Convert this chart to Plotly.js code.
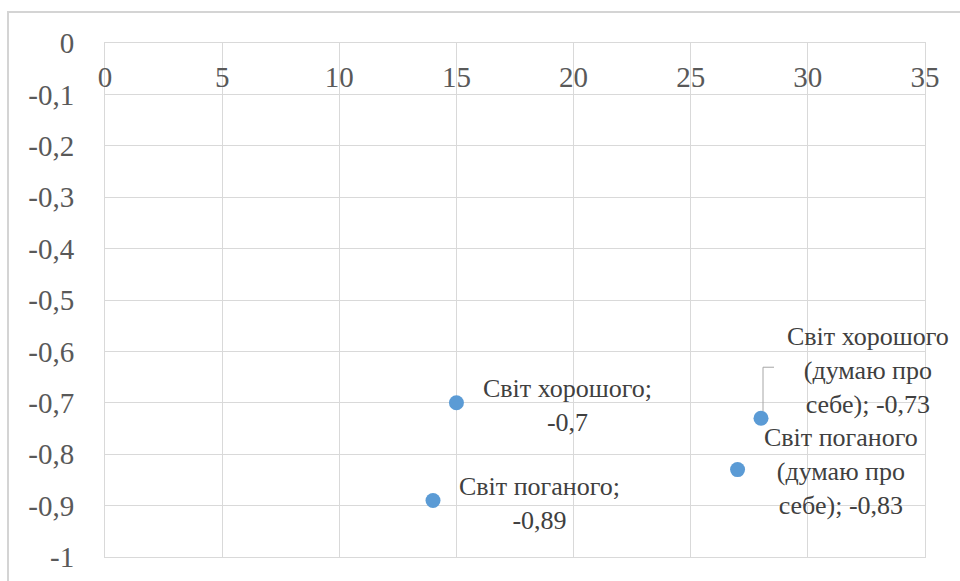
<!DOCTYPE html>
<html>
<head>
<meta charset="utf-8">
<script src="https://cdn.plot.ly/plotly-3.0.1.min.js"></script>
<style>
  html, body { margin: 0; padding: 0; background: #ffffff; }
  #chart { width: 960px; height: 581px; }
</style>
</head>
<body>
<div id="chart"></div>
<script>
// Scatter points: x value and y value for each world
const xValues = [15, 14, 28, 27];
const yValues = [-0.7, -0.89, -0.73, -0.83];
const labelNames = [
  "Світ хорошого;<br>",
  "Світ поганого;<br>",
  "Світ хорошого<br>(думаю про<br>себе); ",
  "Світ поганого<br>(думаю про<br>себе); "
];

// Axis ticks
const xTickVals = [0, 5, 10, 15, 20, 25, 30, 35];
const xTickText = ["0", "5", "10", "15", "20", "25", "30", "35"];
const yTickVals = [0, -0.1, -0.2, -0.3, -0.4, -0.5, -0.6, -0.7, -0.8, -0.9, -1];
const yTickText = ["0", "-0,1", "-0,2", "-0,3", "-0,4", "-0,5", "-0,6", "-0,7", "-0,8", "-0,9", "-1"];

// Pixel offsets of each data label relative to its point
const labelShiftX = [111, 106, 107, 103];
const labelShiftY = [-3, -3, 48, -2];

const gridColor = "#d9d9d9";
const serif = "'Liberation Serif', 'Times New Roman', Tinos, 'DejaVu Serif', serif";

function valueText(v) {
  return String(v).replace(".", ",");
}

const annotations = xValues.map((x, i) => ({
  x: x,
  y: yValues[i],
  xref: "x",
  yref: "y",
  text: labelNames[i] + valueText(yValues[i]),
  showarrow: false,
  xanchor: "center",
  yanchor: "middle",
  align: "center",
  xshift: labelShiftX[i],
  yshift: labelShiftY[i],
  font: { family: serif, size: 26, color: "#404040" }
}));

const trace = {
  type: "scatter",
  mode: "markers",
  x: xValues,
  y: yValues,
  marker: { color: "#5b9bd5", size: 15 },
  hoverinfo: "x+y"
};

const layout = {
  width: 960,
  height: 581,
  margin: { l: 105, r: 35, t: 43, b: 24 },
  paper_bgcolor: "#ffffff",
  plot_bgcolor: "#ffffff",
  showlegend: false,
  font: { family: serif },
  xaxis: {
    range: [0, 35],
    side: "top",
    tickvals: xTickVals,
    ticktext: xTickText,
    ticklabelposition: "inside",
    ticklabeloverflow: "allow",
    ticklabelstandoff: 27,
    ticks: "",
    showgrid: true,
    gridcolor: gridColor,
    zeroline: false,
    showline: true,
    mirror: true,
    linecolor: gridColor,
    linewidth: 1,
    tickfont: { family: serif, size: 29, color: "#595959" },
    fixedrange: true
  },
  yaxis: {
    range: [-1, 0],
    tickvals: yTickVals,
    ticktext: yTickText,
    ticks: "",
    ticklabeloverflow: "allow",
    ticklabelstandoff: 24,
    showgrid: true,
    gridcolor: gridColor,
    zeroline: false,
    showline: true,
    mirror: true,
    linecolor: gridColor,
    linewidth: 1,
    tickfont: { family: serif, size: 29, color: "#595959" },
    fixedrange: true
  },
  annotations: annotations,
  shapes: [
    // chart-area frame (top and left edges)
    {
      type: "path",
      xref: "paper",
      yref: "paper",
      path: "M -0.1183 -0.2 L -0.1183 1.0603 L 1.2 1.0603",
      line: { color: "#d4d4d4", width: 2 }
    },
    // leader line for the label of the third point
    {
      type: "path",
      xref: "x",
      yref: "y",
      xsizemode: "pixel",
      ysizemode: "pixel",
      xanchor: xValues[2],
      yanchor: yValues[2],
      path: "M 2 7 L 2 51 L 13 51",
      line: { color: "#a6a6a6", width: 1 }
    }
  ]
};

Plotly.newPlot("chart", [trace], layout, { displayModeBar: false, staticPlot: true });
</script>
</body>
</html>
